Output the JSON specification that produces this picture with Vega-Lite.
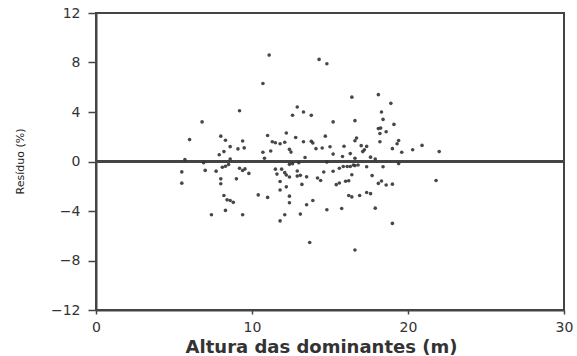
{
  "$schema": "https://vega.github.io/schema/vega-lite/v6.json",
  "autosize": "none",
  "width": 468,
  "height": 297,
  "padding": {"left": 96, "top": 13, "right": 13, "bottom": 46},
  "background": "white",
  "config": {
    "view": {"stroke": "#444", "strokeWidth": 2},
    "font": "DejaVu Sans"
  },
  "data": {
    "values": [
      {"h":11.1,"r":8.6},{"h":10.7,"r":6.3},{"h":9.2,"r":4.1},{"h":6.8,"r":3.2},{"h":6.0,"r":1.77},
      {"h":12.9,"r":4.4},{"h":12.6,"r":3.74},{"h":12.2,"r":2.3},{"h":12.8,"r":1.94},{"h":11.0,"r":2.1},
      {"h":8.0,"r":2.05},{"h":8.3,"r":1.72},{"h":9.4,"r":1.66},{"h":8.6,"r":1.2},{"h":9.1,"r":1.02},
      {"h":9.5,"r":1.1},{"h":8.2,"r":0.8},{"h":7.9,"r":0.54},{"h":10.7,"r":0.75},{"h":11.2,"r":0.85},
      {"h":11.8,"r":1.44},{"h":12.1,"r":1.55},{"h":12.4,"r":0.98},{"h":12.5,"r":0.76},{"h":10.8,"r":0.26},
      {"h":5.7,"r":0.15},{"h":8.6,"r":0.2},{"h":11.3,"r":1.6},{"h":14.3,"r":8.25},{"h":14.8,"r":7.9},
      {"h":16.4,"r":5.2},{"h":18.1,"r":5.4},{"h":18.9,"r":4.7},{"h":13.3,"r":4.0},{"h":13.8,"r":3.73},
      {"h":18.3,"r":4.0},{"h":18.4,"r":3.4},{"h":15.2,"r":3.2},{"h":16.6,"r":3.3},{"h":19.1,"r":3.0},
      {"h":18.1,"r":2.66},{"h":18.25,"r":2.7},{"h":18.6,"r":2.4},{"h":18.2,"r":2.26},{"h":14.7,"r":2.05},
      {"h":16.7,"r":1.9},{"h":16.6,"r":1.68},{"h":13.3,"r":1.6},{"h":13.8,"r":1.63},{"h":13.9,"r":1.5},
      {"h":18.2,"r":1.6},{"h":19.4,"r":1.7},{"h":19.3,"r":1.44},{"h":15.9,"r":1.23},{"h":17.0,"r":1.28},
      {"h":17.35,"r":1.22},{"h":15.0,"r":1.19},{"h":14.5,"r":1.09},{"h":14.1,"r":1.04},{"h":17.2,"r":0.94},
      {"h":19.0,"r":1.04},{"h":20.3,"r":0.95},{"h":20.9,"r":1.3},{"h":22.0,"r":0.8},{"h":19.6,"r":0.75},
      {"h":13.4,"r":0.32},{"h":15.2,"r":0.6},{"h":16.3,"r":0.64},{"h":15.8,"r":0.4},{"h":17.6,"r":0.35},
      {"h":16.6,"r":0.26},{"h":17.9,"r":0.2},{"h":11.5,"r":1.52},{"h":17.1,"r":0.8},
      {"h":6.9,"r":-0.1},{"h":8.5,"r":-0.24},{"h":8.1,"r":-0.46},{"h":8.3,"r":-0.38},{"h":7.0,"r":-0.72},
      {"h":7.7,"r":-0.78},{"h":5.5,"r":-0.84},{"h":5.5,"r":-1.75},{"h":9.2,"r":-0.55},{"h":9.4,"r":-0.73},
      {"h":9.8,"r":-0.96},{"h":9.0,"r":-1.4},{"h":8.0,"r":-1.4},{"h":8.0,"r":-1.8},{"h":8.2,"r":-2.75},
      {"h":8.4,"r":-3.1},{"h":8.6,"r":-3.15},{"h":8.8,"r":-3.3},{"h":8.3,"r":-3.95},{"h":7.4,"r":-4.3},
      {"h":9.4,"r":-4.3},{"h":10.4,"r":-2.7},{"h":11.0,"r":-2.9},{"h":11.5,"r":-0.62},{"h":11.6,"r":-1.02},
      {"h":11.9,"r":-0.62},{"h":12.1,"r":-0.9},{"h":12.2,"r":-1.09},{"h":12.4,"r":-1.25},{"h":12.9,"r":-0.77},
      {"h":12.9,"r":-1.18},{"h":11.8,"r":-1.62},{"h":12.2,"r":-2.05},{"h":11.8,"r":-2.3},{"h":12.4,"r":-2.8},
      {"h":12.4,"r":-3.33},{"h":12.1,"r":-4.3},{"h":11.8,"r":-4.8},{"h":12.6,"r":-0.18},{"h":13.1,"r":-1.12},
      {"h":13.5,"r":-1.24},{"h":13.2,"r":-1.85},{"h":14.6,"r":-0.85},{"h":14.2,"r":-1.33},{"h":14.4,"r":-1.54},
      {"h":15.2,"r":-0.79},{"h":15.6,"r":-0.54},{"h":15.85,"r":-0.4},{"h":16.1,"r":-0.4},{"h":16.3,"r":-0.4},
      {"h":16.6,"r":-0.33},{"h":16.4,"r":-1.07},{"h":17.35,"r":-0.42},{"h":18.4,"r":-0.43},{"h":19.4,"r":-0.17},
      {"h":17.7,"r":-1.14},{"h":15.4,"r":-1.87},{"h":15.6,"r":-1.74},{"h":16.0,"r":-1.6},{"h":16.2,"r":-1.55},
      {"h":18.1,"r":-1.77},{"h":18.3,"r":-1.58},{"h":18.6,"r":-1.9},{"h":19.0,"r":-1.83},{"h":21.8,"r":-1.53},
      {"h":13.9,"r":-3.15},{"h":13.5,"r":-3.5},{"h":13.1,"r":-4.25},{"h":14.8,"r":-3.9},{"h":15.75,"r":-3.8},
      {"h":16.2,"r":-2.75},{"h":16.4,"r":-2.86},{"h":16.9,"r":-2.75},{"h":17.35,"r":-2.5},{"h":17.6,"r":-2.6},
      {"h":17.9,"r":-3.77},{"h":19.0,"r":-5.0},{"h":13.7,"r":-6.55},{"h":16.6,"r":-7.15},{"h":9.55,"r":-0.6},
      {"h":12.4,"r":-0.23},{"h":13.0,"r":-0.1},{"h":14.8,"r":-0.05},{"h":16.5,"r":-0.28},{"h":16.8,"r":-0.28}
    ]
  },
  "layer": [
    {
      "mark": {"type": "rule", "color": "#444", "strokeWidth": 2},
      "encoding": {"y": {"datum": 0, "type": "quantitative"}}
    },
    {
      "mark": {"type": "circle", "size": 13, "color": "#333", "opacity": 0.9},
      "encoding": {
        "x": {
          "field": "h", "type": "quantitative",
          "scale": {"domain": [0, 30], "nice": false, "zero": false},
          "axis": {
            "values": [0, 10, 20, 30],
            "grid": false,
            "domainColor": "#444", "domainWidth": 2,
            "tickColor": "#444", "tickSize": 4, "tickWidth": 1.5,
            "labelFont": "DejaVu Sans", "labelFontSize": 14, "labelColor": "#333",
            "labelPadding": 6, "labelFlush": false,
            "title": "Altura das dominantes (m)",
            "titleFont": "DejaVu Sans", "titleFontSize": 18, "titleFontWeight": "bold", "titleColor": "#333",
            "titleX": 225, "titleY": 37, "titleAnchor": "middle", "titleBaseline": "middle", "titleAlign": "center"
          }
        },
        "y": {
          "field": "r", "type": "quantitative",
          "scale": {"domain": [-12, 12], "nice": false, "zero": false},
          "axis": {
            "values": [-12, -8, -4, 0, 4, 8, 12],
            "grid": false,
            "domainColor": "#444", "domainWidth": 2,
            "tickColor": "#444", "tickSize": 8, "tickWidth": 1.5,
            "labelFont": "DejaVu Sans", "labelFontSize": 14, "labelColor": "#333",
            "labelPadding": 8, "labelFlush": false,
            "title": "Resíduo (%)",
            "titleFont": "DejaVu Sans", "titleFontSize": 11, "titleFontWeight": "normal", "titleColor": "#222",
            "titleX": -76, "titleY": 148, "titleAngle": -90, "titleAlign": "center", "titleBaseline": "middle"
          }
        }
      }
    }
  ]
}
